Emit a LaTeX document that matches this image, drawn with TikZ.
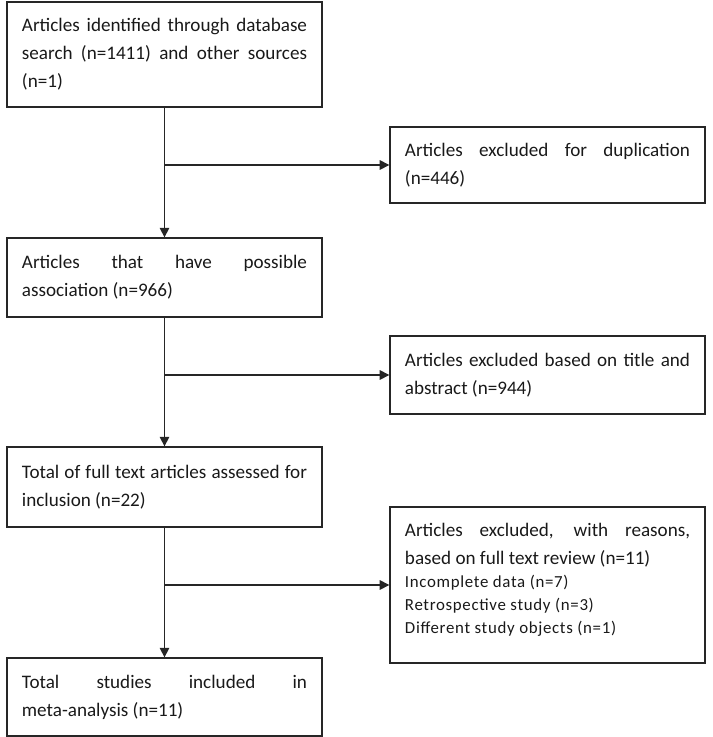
\documentclass[tikz,border=0pt]{standalone}
\usepackage{fontspec}
\setmainfont{Carlito}
\newfontfamily\reasonfamily[LetterSpace=4]{Carlito}
\usepackage{tikz}
\usetikzlibrary{arrows.meta, positioning}
\setlength{\parindent}{0pt}
\newcommand{\reasonfont}{\reasonfamily\fontsize{12}{16.3}\selectfont}
\tikzstyle{stage}=[shape=rectangle,draw=black!85,line width=0.9pt,text=black!90,text width=7.125cm,minimum width=7.875cm,inner xsep=0.375cm,inner ysep=0pt,align=justify,font=\fontsize{13.6}{19.9}\selectfont]
\tikzstyle{flow}=[-{Triangle[length=2.4mm,width=2.4mm]},line width=0.9pt,draw=black!85]

\begin{document}
\begin{tikzpicture}[x=0.025cm,y=-0.025cm]
\useasboundingbox (0,0) rectangle (712,737);

% left column
\node[stage,minimum height=2.625cm] (ident) at (164.5,54.5) {Articles identified through database\linebreak search (n=1411) and other sources\linebreak (n=1)};
\node[stage,minimum height=1.975cm] (assoc) at (164.5,277.5) {Articles that have possible\linebreak association (n=966)};
\node[stage,minimum height=2cm] (full) at (164.5,487) {Total of full text articles assessed for\linebreak inclusion (n=22)};
\node[stage,minimum height=1.95cm] (incl) at (164.5,697) {Total studies included in\linebreak meta-analysis (n=11)};

% right column
\node[stage,minimum height=1.9cm] (dup) at (547.5,165) {Articles excluded for duplication\linebreak (n=446)};
\node[stage,minimum height=1.95cm] (title) at (547.5,375) {Articles excluded based on title and\linebreak abstract (n=944)};
\node[stage,minimum height=3.9cm] (reasons) at (547.5,585) {Articles excluded, with reasons,\linebreak based on full text review (n=11)\par
{\reasonfont Incomplete data (n=7)\par Retrospective study (n=3)\par Different study objects (n=1)\par}\vspace*{0.25cm}};

% junctions
\coordinate (j1) at (ident.south |- dup.west);
\coordinate (j2) at (assoc.south |- title.west);
\coordinate (j3) at (full.south |- reasons.west);

% connectors
\draw[flow] (ident) -- (assoc);
\draw[flow] (assoc) -- (full);
\draw[flow] (full) -- (incl);
\draw[flow] (j1) -- (dup.west);
\draw[flow] (j2) -- (title.west);
\draw[flow] (j3) -- (reasons.west);

\end{tikzpicture}
\end{document}
